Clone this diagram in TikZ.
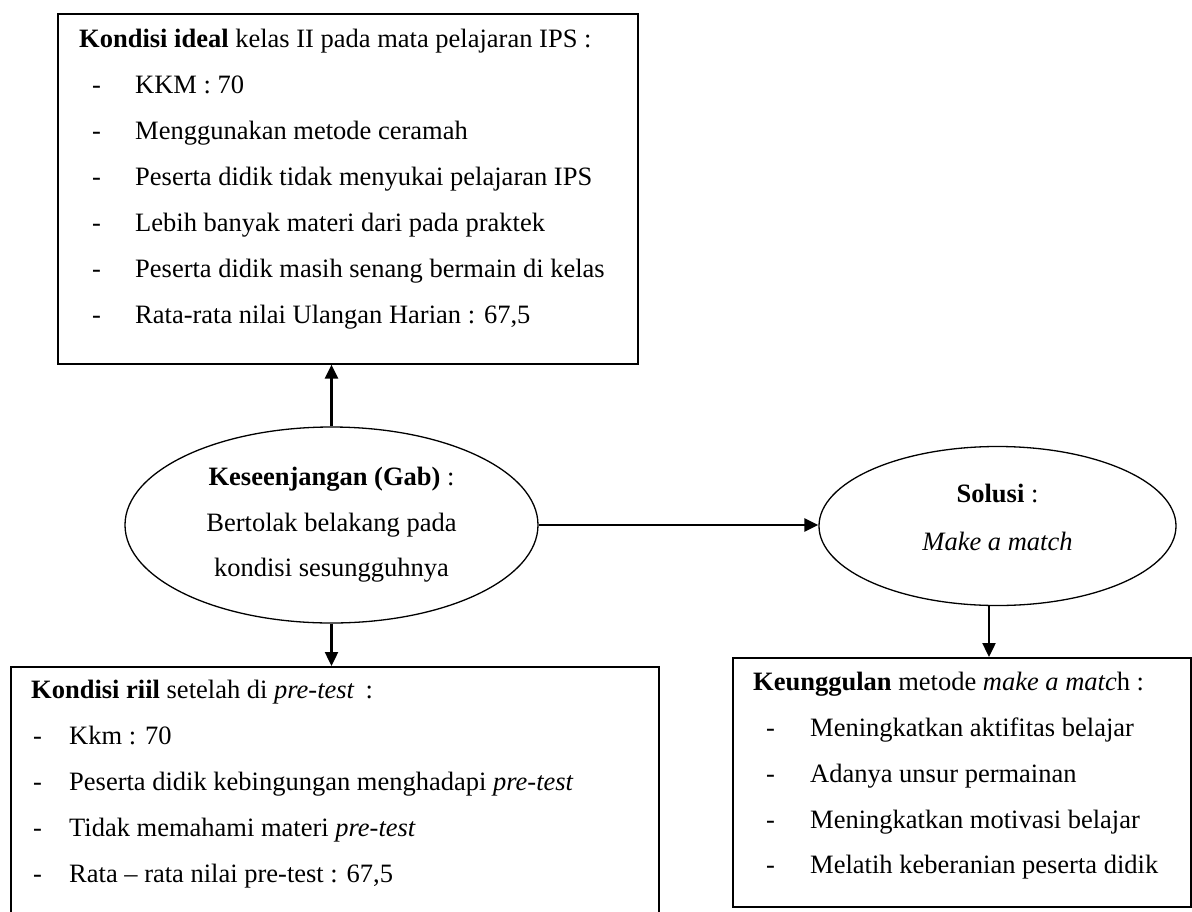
\documentclass[tikz,border=0pt]{standalone}
\usepackage{fontspec}
\setmainfont{Liberation Serif}
\usetikzlibrary{arrows.meta,shapes.geometric}
\begin{document}
\begin{tikzpicture}[x=1pt,y=-1pt,
  box/.style={draw,line width=1.6pt,inner sep=0pt,anchor=north west},
  oval/.style={draw,ellipse,line width=1.3pt,inner sep=0pt},
  txt/.style={anchor=base west,inner sep=0pt,font=\fontsize{26.5}{30}\selectfont},
  ctxt/.style={anchor=base,inner sep=0pt,font=\fontsize{26.5}{30}\selectfont},
  arr/.style={line width=2.4pt,-{Triangle[length=14pt,width=13pt]}}]
\useasboundingbox (0,0) rectangle (1192,911);
% boxes
\node[box,minimum width=580pt,minimum height=350pt] (ideal) at (57,13) {};
\node[box,minimum width=648pt,minimum height=252pt] (riil) at (10,666) {};
\node[box,minimum width=458pt,minimum height=249pt] (keu) at (732,657) {};
% ellipses
\node[oval,minimum width=413pt,minimum height=196pt] (gap) at (331.5,525) {};
\node[oval,minimum width=357pt,minimum height=159pt] (sol) at (997.5,526) {};
\coordinate (sd) at ([xshift=-8.5pt]sol.south);
% top box text
\node[txt] (i0) at (79,47) {\textbf{Kondisi ideal} kelas II pada mata pelajaran IPS :};
\node[txt] (d1) at (92,93) {-};  \node[txt] (i1) at (135,93) {KKM : 70};
\node[txt] (d2) at (92,139) {-}; \node[txt] (i2) at (135,139) {Menggunakan metode ceramah};
\node[txt] (d3) at (92,185) {-}; \node[txt] (i3) at (135,185) {Peserta didik tidak menyukai pelajaran IPS};
\node[txt] (d4) at (92,231) {-}; \node[txt] (i4) at (135,231) {Lebih banyak materi dari pada praktek};
\node[txt] (d5) at (92,277) {-}; \node[txt] (i5) at (135,277) {Peserta didik masih senang bermain di kelas};
\node[txt] (d6) at (92,323) {-}; \node[txt] (i6) at (135,323) {Rata-rata nilai Ulangan Harian : 67,5};
% ellipse texts
\node[ctxt] (g1) at (331.5,485) {\textbf{Keseenjangan (Gab)} :};
\node[ctxt] (g2) at (331.5,531) {Bertolak belakang pada};
\node[ctxt] (g3) at (331.5,576) {kondisi sesungguhnya};
\node[ctxt] (s1) at (997.5,502) {\textbf{Solusi} :};
\node[ctxt] (s2) at (997.5,550) {\textit{Make a match}};
% bottom-left box text
\node[txt] (r0) at (31,698) {\textbf{Kondisi riil} setelah di \textit{pre-test}\,\ :};
\node[txt] (rd1) at (33,744) {-}; \node[txt] (r1) at (69,744) {Kkm : 70};
\node[txt] (rd2) at (33,790) {-}; \node[txt] (r2) at (69,790) {Peserta didik kebingungan menghadapi \textit{pre-test}};
\node[txt] (rd3) at (33,836) {-}; \node[txt] (r3) at (69,836) {Tidak memahami materi \textit{pre-test}};
\node[txt] (rd4) at (33,882) {-}; \node[txt] (r4) at (69,882) {Rata -- rata nilai pre-test : 67,5};
% right box text
\node[txt] (k0) at (753,690) {\textbf{Keunggulan} metode \textit{make a matc}h :};
\node[txt] (kd1) at (766,736) {-}; \node[txt] (k1) at (810,736) {Meningkatkan aktifitas belajar};
\node[txt] (kd2) at (766,782) {-}; \node[txt] (k2) at (810,782) {Adanya unsur permainan};
\node[txt] (kd3) at (766,828) {-}; \node[txt] (k3) at (810,828) {Meningkatkan motivasi belajar};
\node[txt] (kd4) at (766,873) {-}; \node[txt] (k4) at (810,873) {Melatih keberanian peserta didik};
% connectors
\draw[arr] (gap.north) -- (gap.north |- ideal.south);
\draw[arr] (gap.south) -- (gap.south |- riil.north);
\draw[arr] (gap.east) -- (gap.east -| sol.west);
\draw[arr] (sd) -- (sd |- keu.north);
\end{tikzpicture}
\end{document}
